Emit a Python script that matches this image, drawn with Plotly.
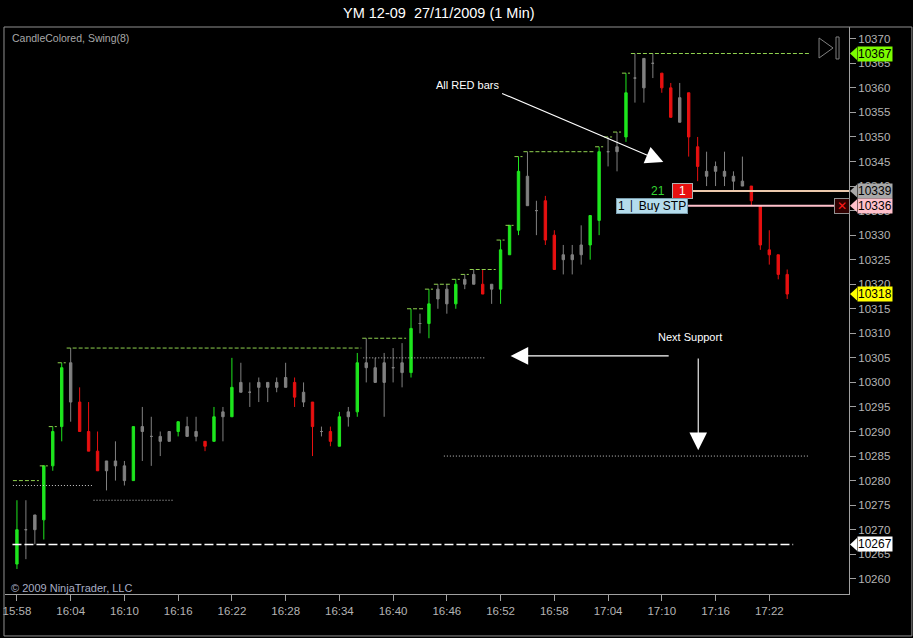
import pandas as pd
import plotly.graph_objects as go

# 1 minute bars, YM 12-09, 27/11/2009 15:58 - 17:24
times = pd.date_range("2009-11-27 15:58", periods=87, freq="min")

opens = [10263, 10270, 10273, 10272, 10283, 10291, 10304, 10296, 10290, 10286,
         10284, 10284, 10283, 10280, 10291, 10289, 10289, 10290, 10290, 10291,
         10290, 10288, 10288, 10294, 10293, 10300, 10298, 10300, 10300, 10300,
         10301, 10300, 10298, 10296, 10290, 10290, 10287, 10294, 10294, 10304,
         10303, 10304, 10303, 10304, 10302, 10312, 10312, 10319, 10319, 10316,
         10321, 10322, 10320, 10320, 10319, 10326, 10331, 10342, 10335, 10337,
         10330, 10326, 10326, 10328, 10328, 10333, 10347, 10348, 10350, 10362,
         10366, 10365, 10363, 10360, 10358, 10359, 10348, 10343, 10344, 10343,
         10342, 10341, 10340, 10336, 10327, 10326, 10322]
highs = [10276, 10276, 10273, 10283, 10291, 10304, 10307, 10299, 10296, 10290,
         10284, 10288, 10284, 10291, 10295, 10293, 10290, 10290, 10292, 10293,
         10293, 10288, 10295, 10295, 10305, 10304, 10300, 10301, 10300, 10301,
         10304, 10301, 10300, 10296, 10291, 10291, 10294, 10295, 10306, 10309,
         10305, 10306, 10307, 10308, 10315, 10314, 10319, 10320, 10320, 10321,
         10322, 10323, 10323, 10320, 10329, 10332, 10346, 10347, 10337, 10338,
         10331, 10328, 10328, 10332, 10334, 10348, 10350, 10351, 10363, 10367,
         10366, 10367, 10363, 10361, 10361, 10359, 10350, 10347, 10345, 10347,
         10343, 10346, 10340, 10336, 10331, 10326, 10323]
lows = [10262, 10264, 10267, 10268, 10282, 10288, 10292, 10290, 10286, 10282,
        10278, 10280, 10279, 10280, 10284, 10283, 10285, 10288, 10289, 10289,
        10288, 10286, 10288, 10288, 10293, 10298, 10295, 10296, 10296, 10298,
        10299, 10295, 10295, 10285, 10289, 10287, 10287, 10291, 10293, 10300,
        10300, 10293, 10300, 10299, 10301, 10310, 10309, 10315, 10314, 10315,
        10319, 10320, 10318, 10316, 10316, 10326, 10330, 10336, 10330, 10328,
        10323, 10322, 10322, 10324, 10325, 10330, 10344, 10343, 10349, 10357,
        10357, 10362, 10359, 10354, 10353, 10346, 10341, 10340, 10340, 10340,
        10339, 10340, 10336, 10327, 10324, 10321, 10317]
closes = [10270, 10270, 10270, 10283, 10290, 10303, 10296, 10290, 10286, 10282,
          10282, 10283, 10280, 10291, 10290, 10289, 10288, 10288, 10292, 10289,
          10289, 10287, 10293, 10293, 10299, 10298, 10298, 10299, 10299, 10299,
          10299, 10297, 10296, 10291, 10290, 10288, 10293, 10293, 10304, 10303,
          10300, 10300, 10303, 10302, 10311, 10312, 10316, 10317, 10316, 10320,
          10320, 10320, 10318, 10319, 10327, 10332, 10343, 10336, 10335, 10329,
          10323, 10325, 10325, 10326, 10334, 10347, 10347, 10347, 10359, 10362,
          10360, 10365, 10360, 10354, 10353, 10350, 10344, 10342, 10343, 10342,
          10341, 10340, 10337, 10328, 10326, 10322, 10318]
# CandleColored: g = green, r = red, n = neutral (gray)
bar_colors = ("gnngggnrrr" "nnngnnnngn" "nrgngnnnnn" "nrnrnrgngn" "nnnngngnng"
              "nnrngggnnr" "rnnnggnngn" "nnrrnrrnnn" "nnrrrrr")

# Swing(8) plots, one value per bar
swing_high = [10280, 10280, 10280, 10283, 10291, 10304, 10307, 10307, 10307, 10307,
              10307, 10307, 10307, 10307, 10307, 10307, 10307, 10307, 10307, 10307,
              10307, 10307, 10307, 10307, 10307, 10307, 10307, 10307, 10307, 10307,
              10307, 10307, 10307, 10307, 10307, 10307, 10307, 10307, 10307, 10309,
              10309, 10309, 10309, 10309, 10315, 10315, 10319, 10320, 10320, 10321,
              10322, 10323, 10323, 10323, 10329, 10332, 10346, 10347, 10347, 10347,
              10347, 10347, 10347, 10347, 10347, 10348, 10350, 10351, 10363, 10367,
              10367, 10367, 10367, 10367, 10367, 10367, 10367, 10367, 10367, 10367,
              10367, 10367, 10367, 10367, 10367, 10367, 10367]
swing_low = [10279, 10279, 10279, 10279, 10279, 10279, 10279, 10279, 10279, 10276,
             10276, 10276, 10276, 10276, 10276, 10276, 10276, 10276] + [None] * 69

# drawn support lines: level, from, to
support_levels = [10305, 10285]
support_from = ["2009-11-27 16:36:40", "2009-11-27 16:45:40"]
support_to = ["2009-11-27 16:50:20", "2009-11-27 17:26:30"]
low_line_level = 10267

last_price = 10318
swing_top = 10367
position_price = 10339
stop_price = 10336

GREEN = "#1ee61e"
RED = "#e81010"
GRAY = "#808080"
FONT = "Liberation Sans, Arial, sans-serif"

fig = go.Figure()

for code, col in [("n", GRAY), ("g", GREEN), ("r", RED)]:
    idx = [i for i, c in enumerate(bar_colors) if c == code]
    fig.add_trace(go.Candlestick(
        x=[times[i] for i in idx],
        open=[opens[i] for i in idx],
        high=[highs[i] for i in idx],
        low=[lows[i] for i in idx],
        close=[closes[i] for i in idx],
        increasing=dict(line=dict(color=col, width=1), fillcolor=col),
        decreasing=dict(line=dict(color=col, width=1), fillcolor=col),
        whiskerwidth=0,
        showlegend=False,
        hoverinfo="skip",
    ))


def swing_segments(values, extend_last=0.0):
    xs, ys = [], []
    half = pd.Timedelta(seconds=27)
    i = 0
    n = len(values)
    while i < n:
        if values[i] is None:
            i += 1
            continue
        j = i
        while j + 1 < n and values[j + 1] == values[i]:
            j += 1
        end = times[j] + half
        if j == n - 1:
            end = end + pd.Timedelta(minutes=extend_last)
        xs += [times[i] - half, end, None]
        ys += [values[i], values[i], None]
        i = j + 1
    return xs, ys


hx, hy = swing_segments(swing_high, extend_last=2.0)
fig.add_trace(go.Scatter(x=hx, y=hy, mode="lines", showlegend=False, hoverinfo="skip",
                         line=dict(color="#8fd14f", width=1, dash="4px,2px")))
lx, ly = swing_segments(swing_low)
fig.add_trace(go.Scatter(x=lx, y=ly, mode="lines", showlegend=False, hoverinfo="skip",
                         line=dict(color="#c8c8c8", width=1, dash="1px,2px")))

for lvl, a, b in zip(support_levels, support_from, support_to):
    fig.add_trace(go.Scatter(x=[a, b], y=[lvl, lvl], mode="lines", showlegend=False,
                             hoverinfo="skip",
                             line=dict(color="#c8c8c8", width=1, dash="1px,2px")))

fig.add_trace(go.Scatter(x=["2009-11-27 15:57:30", "2009-11-27 17:24:40"],
                         y=[low_line_level, low_line_level], mode="lines",
                         showlegend=False, hoverinfo="skip",
                         line=dict(color="#ffffff", width=1.5, dash="9px,3px")))

x_end = "2009-11-27 17:30:54"

# order / position lines
fig.add_shape(type="line", xref="x", yref="y", x0="2009-11-27 17:13:23", x1=x_end,
              y0=position_price, y1=position_price, line=dict(color="#ecc9ad", width=2))
fig.add_shape(type="line", xref="x", yref="y", x0="2009-11-27 17:12:56",
              x1="2009-11-27 17:29:18", y0=stop_price, y1=stop_price,
              line=dict(color="#ffc0cb", width=2))

annotations = []


def text(x, y, s, size=11, color="white", **kw):
    kw.setdefault("xanchor", "center")
    annotations.append(dict(x=x, y=y, text=s, showarrow=False, yanchor="middle",
                            font=dict(family=FONT, size=size, color=color), **kw))


def arrow(x, y, ax, ay):
    annotations.append(dict(x=x, y=y, ax=ax, ay=ay, xref="x", yref="y", axref="x",
                            ayref="y", text="", showarrow=True, arrowhead=2,
                            arrowsize=3.2, arrowwidth=1.1, arrowcolor="white"))


# title and corner texts
text(0.514, 1.0247, "YM 12-09 \u00a027/11/2009 (1 Min)", size=14.5, xref="paper",
     yref="paper")
text(0.006, 0.9806, "CandleColored, Swing(8)", size=10.5, color="#a8a8a8",
     xref="paper", yref="paper", xanchor="left")
text(0.005, 0.0106, "\u00a9 2009 NinjaTrader, LLC", size=11, color="#a8aec4",
     xref="paper", yref="paper", xanchor="left")

# notes
text("2009-11-27 16:48:20", 10360.6, "All RED bars", size=11)
arrow("2009-11-27 17:10:10", 10344.9, "2009-11-27 16:52:00", 10359.0)
text("2009-11-27 17:13:06", 10309.3, "Next Support", size=11)
arrow("2009-11-27 16:53:07", 10305.4, "2009-11-27 17:10:56", 10305.4)
arrow("2009-11-27 17:14:04", 10286.2, "2009-11-27 17:14:04", 10305.2)

# position marker and stop order label
text("2009-11-27 17:09:33", position_price, "21", size=12, color="#33d633")
text("2009-11-27 17:12:17", position_price, "1", size=12, color="white",
     bgcolor=RED, bordercolor="#b0b0b0", borderwidth=1, width=17, height=12)
text("2009-11-27 17:08:52", stop_price, "1 \u2502 Buy STP", size=12, color="black",
     bgcolor="#b4dcec", bordercolor="#7a9cac", borderwidth=1, height=12)
text(0.9917, stop_price, "\u2715", size=12, color="#ff1a1a", xref="paper",
     bgcolor="#300000", bordercolor="#909090", borderwidth=1, width=12, height=12)

# price tags on the axis
tags = [(swing_top, "#7cfc00"), (position_price, "#a8a8a8"), (stop_price, "#ffc0cb"),
        (last_price, "#ffff00"), (low_line_level, "#ffffff")]
px_paper = 1.0 / 846
for lvl, bg in tags:
    annotations.append(dict(x=1, y=lvl, xref="paper", yref="y", xanchor="left",
                            yanchor="middle", xshift=8, text=str(lvl), showarrow=False,
                            bgcolor=bg, borderpad=0,
                            font=dict(family=FONT, size=12, color="black")))
    fig.add_shape(type="path", xref="paper", yref="y", line=dict(width=0), fillcolor=bg,
                  path=f"M {1 + px_paper} {lvl} L {1 + 8 * px_paper} {lvl + 1.3} "
                       f"L {1 + 8 * px_paper} {lvl - 1.3} Z")

# end-of-chart button
fig.add_shape(type="path", xref="paper", yref="paper", line=dict(color="#808080", width=1),
              path="M 0.9645 0.9806 L 0.9811 0.9630 L 0.9645 0.9453 Z")
fig.add_shape(type="rect", xref="paper", yref="paper", x0=0.9846, x1=0.9882,
              y0=0.9436, y1=0.9824, line=dict(color="#808080", width=1))

# outer frame
fig.add_shape(type="rect", xref="paper", yref="paper", x0=-0.0012, x1=1.0745,
              y0=-0.074, y1=1.0, line=dict(color="#909090", width=1))

fig.update_layout(
    width=913, height=638,
    margin=dict(l=3, r=64, t=27, b=44),
    paper_bgcolor="black", plot_bgcolor="black",
    boxgap=0.62,
    annotations=annotations,
    font=dict(family=FONT, color="#b4b4b4"),
    xaxis=dict(
        type="date",
        range=["2009-11-27 15:56:40", x_end],
        rangeslider=dict(visible=False),
        tickvals=list(times[::6]), tickformat="%H:%M",
        showgrid=False, zeroline=False, showline=True, linecolor="#a0a0a0",
        ticks="outside", ticklen=6, tickcolor="#a0a0a0",
        tickfont=dict(family=FONT, size=11.5, color="#b4b4b4"),
    ),
    yaxis=dict(
        side="right",
        range=[10256.9, 10372.4],
        tick0=10260, dtick=5, tickformat="d",
        showgrid=False, zeroline=False, showline=True, linecolor="#a0a0a0",
        ticks="outside", ticklen=6, tickcolor="#a0a0a0",
        tickfont=dict(family=FONT, size=11.5, color="#b4b4b4"),
    ),
)

fig.write_html("out.html", config={"displayModeBar": False},
               post_script="document.body.style.margin='0';")
